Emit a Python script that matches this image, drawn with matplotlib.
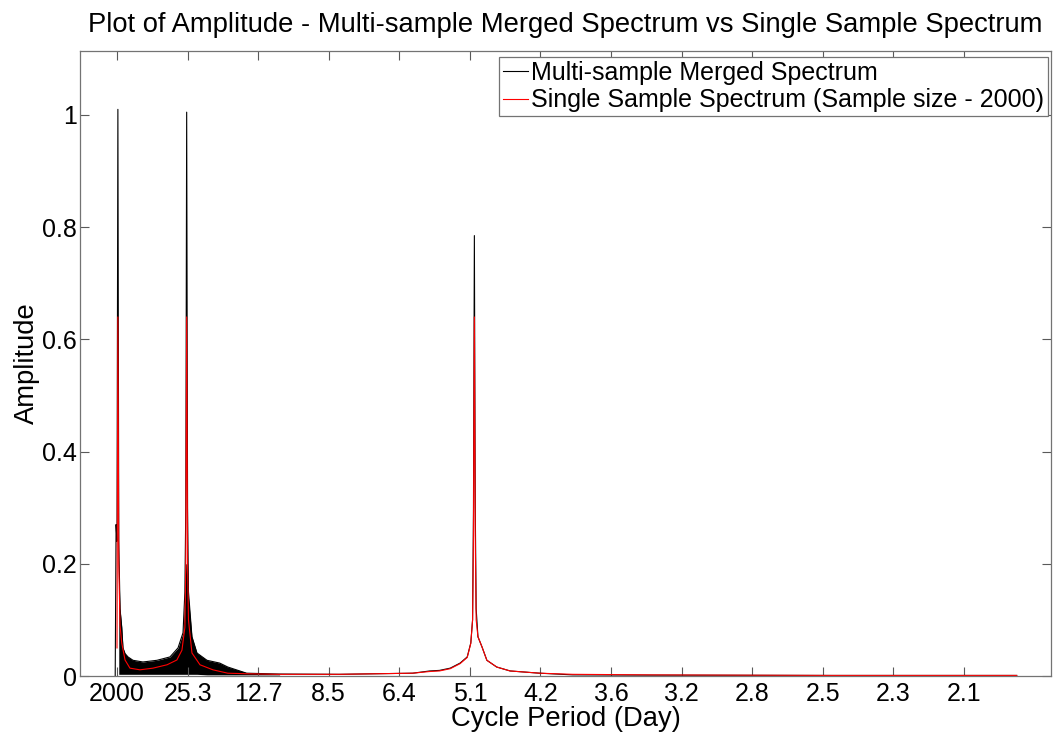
import matplotlib
matplotlib.use("Agg")
import matplotlib.pyplot as plt

# ---------------- data (frequency bin index on x, amplitude on y) ----------------
tick_bins = [1, 80, 159, 238, 317, 396, 475, 554, 633, 712, 791, 870, 949]
tick_labels = ["2000", "25.3", "12.7", "8.5", "6.4", "5.1", "4.2", "3.6",
               "3.2", "2.8", "2.5", "2.3", "2.1"]

# Multi-sample merged spectrum (black) - main trace
merged_x = [-1, 0, 1, 2, 3, 4.4, 6.3, 7.7, 10, 13.3, 18.9, 30, 45.8, 60.3, 69.3,
            74.9, 77, 78, 79, 80, 81, 84.9, 90.5, 101.7, 116, 125, 146, 183, 250,
            332, 351, 362, 374, 385, 393, 397, 399, 400, 401, 402, 403, 405, 409.5,
            415, 426, 441, 474, 511, 600, 800, 1008]
merged_y = [0.0, 0.27, 0.24, 1.01, 0.24, 0.12, 0.087, 0.05, 0.04, 0.034, 0.028,
            0.025, 0.028, 0.034, 0.05, 0.077, 0.15, 0.3, 1.005, 0.3, 0.15, 0.07,
            0.041, 0.028, 0.023, 0.016, 0.005, 0.0035, 0.003, 0.005, 0.009, 0.01,
            0.014, 0.023, 0.034, 0.059, 0.1, 0.3, 0.785, 0.3, 0.12, 0.07, 0.052,
            0.028, 0.016, 0.009, 0.005, 0.002, 0.0015, 0.001, 0.001]

# Dense oscillation band of the merged spectrum between the first two peaks
band_x = [3, 4.4, 6.3, 7.7, 10, 13.3, 18.9, 30, 45.8, 60.3, 69.3, 74.9, 77, 78,
          80, 81, 84.9, 90.5, 101.7, 116, 125, 146, 183]
band_top = [0.2, 0.12, 0.087, 0.05, 0.04, 0.034, 0.028, 0.025, 0.028, 0.034, 0.05,
            0.077, 0.14, 0.2, 0.2, 0.14, 0.07, 0.041, 0.028, 0.023, 0.016, 0.006,
            0.0035]
band_bottom = [0.003, 0.003, 0.003, 0.003, 0.003, 0.003, 0.003, 0.003, 0.003,
               0.003, 0.003, 0.003, 0.003, 0.003, 0.003, 0.003, 0.003, 0.003,
               0.002, 0.002, 0.002, 0.002, 0.002]

# Single sample spectrum (red)
single_x = [1, 2, 3, 4.4, 6.3, 10, 15.5, 26.7, 41.3, 57, 68, 73.7, 77, 78, 79,
            80, 81, 84.9, 93.9, 108.4, 125, 146, 183, 250, 332, 351, 362, 374,
            385, 393, 397, 399, 400, 401, 402, 403, 405, 409.5, 415, 426, 441, 474,
            511, 600, 800, 1008]
single_y = [0.05, 0.64, 0.2, 0.09, 0.059, 0.0285, 0.014, 0.011, 0.014, 0.02,
            0.0285, 0.046, 0.087, 0.2, 0.64, 0.2, 0.1, 0.041, 0.02, 0.011, 0.005,
            0.004, 0.003, 0.003, 0.005, 0.008, 0.009, 0.013, 0.022, 0.033, 0.058,
            0.1, 0.25, 0.64, 0.25, 0.1, 0.07, 0.052, 0.028, 0.016, 0.009, 0.005,
            0.003, 0.002, 0.001, 0.001]

# ---------------- figure ----------------
plt.rcParams['font.family'] = ['Liberation Sans', 'DejaVu Sans']
FS_TICK = 18
FS_LAB = 19.7

fig = plt.figure(figsize=(10.55, 7.38), dpi=100)
ax = fig.add_axes([80 / 1055, 1 - 676 / 738, (1051 - 80) / 1055, (676 - 51) / 738])

ax.fill_between(band_x, band_bottom, band_top, color='black', linewidth=0)
ax.plot(merged_x, merged_y, color='black', linewidth=0.8,
        label='Multi-sample Merged Spectrum')
ax.plot(single_x, single_y, color='red', linewidth=0.8,
        label='Single Sample Spectrum (Sample size - 2000)')

ax.set_xlim(-40.4, 1046.4)
ax.set_ylim(0, 1.114)
ax.set_xticks(tick_bins)
ax.set_xticklabels(tick_labels)
ax.set_yticks([0, 0.2, 0.4, 0.6, 0.8, 1])
ax.set_yticklabels(["0", "0.2", "0.4", "0.6", "0.8", "1"])

ax.tick_params(axis='both', direction='in', length=6.5, width=0.8,
               color='0.35', labelsize=FS_TICK, top=True, right=True)
ax.tick_params(axis='x', pad=4)
ax.tick_params(axis='y', pad=2)
for s in ax.spines.values():
    s.set_color('0.45')
    s.set_linewidth(0.9)

ax.set_xlabel('Cycle Period (Day)', fontsize=FS_LAB, labelpad=0)
ax.set_ylabel('Amplitude', fontsize=FS_LAB, labelpad=2)
ax.set_title('Plot of Amplitude - Multi-sample Merged Spectrum vs Single Sample Spectrum',
             fontsize=FS_LAB, pad=14)

leg = ax.legend(loc='upper right', bbox_to_anchor=(1048 / 1055, 1 - 57 / 738),
                bbox_transform=fig.transFigure, fontsize=FS_TICK, frameon=True,
                fancybox=False, framealpha=1, edgecolor='0.45',
                handlelength=1.0, handletextpad=0.15, labelspacing=0.15,
                borderpad=0.15, borderaxespad=0)
leg.get_frame().set_linewidth(0.9)

fig.savefig('out.png', dpi=100)
